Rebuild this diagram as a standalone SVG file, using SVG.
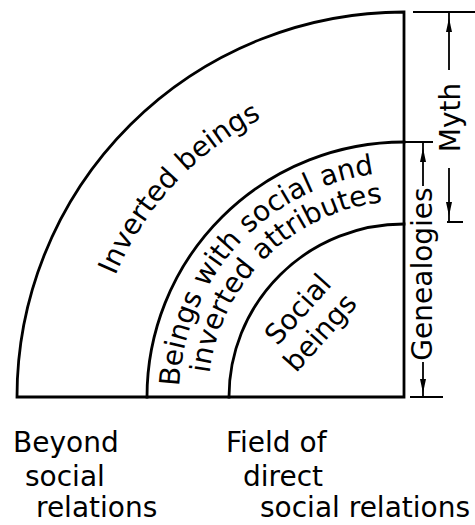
<svg xmlns="http://www.w3.org/2000/svg" xmlns:xlink="http://www.w3.org/1999/xlink" width="475" height="525" viewBox="0 0 475 525">
<style>
.ln{fill:none;stroke:#000;stroke-width:2.8;stroke-linecap:square}
.dim{fill:none;stroke:#000;stroke-width:1.8}
.t{font-family:"DejaVu Sans","Liberation Sans",sans-serif;font-size:28px;fill:#000}
.ah{fill:#000}
</style>
<defs>
<path id="ah" d="M0,0 L-3,14 L3,14 Z"/>
<path id="p-outer" d="M91,397 A313,313 0 0 1 404,84"/>
<path id="p-mid1" d="M179,397 A225,225 0 0 1 404,172"/>
<path id="p-mid2" d="M208,397 A196,196 0 0 1 404,201"/>
</defs>
<rect width="475" height="525" fill="#fff"/>
<g id="frame">
<path class="ln" d="M17,397 A387,385 0 0 1 404,12 L404,397 Z"/>
</g>
<g id="outer-band">
<text class="t" text-anchor="middle"><textPath xlink:href="#p-outer" href="#p-outer" startOffset="234">Inverted beings</textPath></text>
</g>
<g id="middle-band">
<path class="ln" d="M147,397 A257,255 0 0 1 404,142"/>
<text class="t" text-anchor="middle"><textPath xlink:href="#p-mid1" href="#p-mid1" startOffset="167">Beings with social and</textPath></text>
<text class="t" text-anchor="middle"><textPath xlink:href="#p-mid2" href="#p-mid2" startOffset="155">inverted attributes</textPath></text>
</g>
<g id="inner-region">
<path class="ln" d="M229,397 A175,173 0 0 1 404,224"/>
<text class="t" text-anchor="middle" transform="translate(297.5,309) rotate(-48)" dy="10">Social</text>
<text class="t" text-anchor="middle" transform="translate(321.5,334) rotate(-48)" dy="7.5">beings</text>
</g>
<g id="connectors">
<g id="dim-myth">
<path class="dim" d="M413,12 H475 M449,12 V70 M449,168 V222 M447,222 H463"/>
<use href="#ah" xlink:href="#ah" class="ah" transform="translate(449,18)"/>
<use href="#ah" xlink:href="#ah" class="ah" transform="translate(449,216) rotate(180)"/>
</g>
<g id="dim-genealogies">
<path class="dim" d="M404,142 H433 M423,142 V186 M423,362 V397 M410,397 H443"/>
<use href="#ah" xlink:href="#ah" class="ah" transform="translate(423,148)"/>
<use href="#ah" xlink:href="#ah" class="ah" transform="translate(423,393) rotate(180)"/>
</g>
</g>
<g id="dimension-labels">
<text class="t" text-anchor="middle" transform="translate(460,117.5) rotate(-90)">Myth</text>
<text class="t" text-anchor="middle" transform="translate(432,274) rotate(-90)">Genealogies</text>
</g>
<g id="axis-labels">
<text class="t" x="13" y="452">Beyond</text>
<text class="t" x="25" y="486">social</text>
<text class="t" x="36" y="517">relations</text>
<text class="t" x="226" y="452">Field of</text>
<text class="t" x="243" y="486">direct</text>
<text class="t" x="260" y="517">social relations</text>
</g>
</svg>
